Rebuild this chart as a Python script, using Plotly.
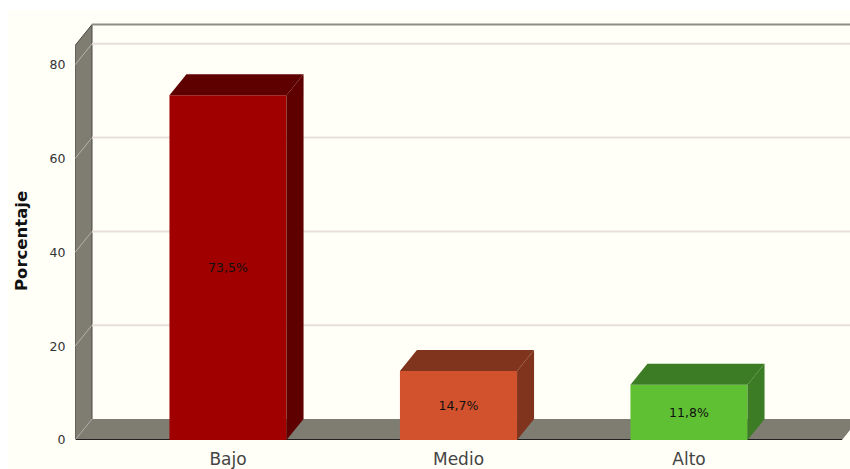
import plotly.graph_objects as go

categories = ["Bajo", "Medio", "Alto"]
values = [73.5, 14.7, 11.8]
value_labels = ["73,5%", "14,7%", "11,8%"]
front_colors = ["#A00000", "#D2522D", "#60C034"]
side_colors = ["#5F0000", "#80341E", "#3C7C24"]
y_ticks = [0, 20, 40, 60, 80]
y_title = "Porcentaje"

W, H = 850, 469
ML, MB = 75, 29
PX_X = 230.5      # pixels per category
PX_Y = 4.69       # pixels per percentage point
X0_PX = 228       # pixel of first category
BAR_W = 0.508
DX = 17 / PX_X    # 3D depth in data units
DY = 21 / PX_Y
plot_h = H - MB
x_rng = [(ML - X0_PX) / PX_X, (W - X0_PX) / PX_X]
y_rng = [0, plot_h / PX_Y]

WALL = "#7F7C72"
IVORY = "#FFFEF7"
GRID = "#E9DFD9"
x_left = x_rng[0]
x_right = (842 - X0_PX) / PX_X
y_top = 84.1


def poly(pts):
    return "M " + " L ".join(f"{x},{y}" for x, y in pts) + " Z"


shapes = [
    dict(type="rect", xref="paper", yref="paper", layer="below", line_width=0, fillcolor=IVORY,
         x0=(8 - ML) / (W - ML), x1=1, y0=-MB / plot_h, y1=(plot_h - 10) / plot_h),
    # left wall
    dict(type="path", xref="x", yref="y", layer="below", fillcolor=WALL, line=dict(color="#4A4A44", width=1),
         path=poly([(x_left, 0), (x_left + DX, DY), (x_left + DX, y_top + DY), (x_left, y_top)])),
    # floor
    dict(type="path", xref="x", yref="y", layer="below", fillcolor=WALL, line_width=0,
         path=poly([(x_left, 0), (x_left + DX, DY), (x_right + DX, DY), (x_right, 0)])),
    # back top edge
    dict(type="line", xref="x", yref="y", layer="below", line=dict(color="#8E8C84", width=2),
         x0=x_left + DX, x1=x_rng[1], y0=y_top + DY, y1=y_top + DY),
    # front baseline
    dict(type="line", xref="x", yref="y", layer="below", line=dict(color="#222222", width=2),
         x0=x_left, x1=x_right, y0=0, y1=0),
]
for t in y_ticks:
    if t > 0:
        shapes.append(dict(type="line", xref="x", yref="y", layer="below", line=dict(color=GRID, width=2),
                           x0=x_left + DX, x1=x_rng[1], y0=t + DY, y1=t + DY))
    shapes.append(dict(type="line", xref="x", yref="y", layer="below", line=dict(color="#B5B3AB", width=1),
                       x0=x_left, x1=x_left + DX, y0=t, y1=t + DY))

fig = go.Figure()
xs = list(range(len(categories)))
fig.add_trace(go.Bar(x=xs, y=values, width=BAR_W, marker=dict(color=front_colors, line_width=0),
                     text=value_labels, textposition="inside", insidetextanchor="middle",
                     textangle=0, constraintext="none",
                     textfont=dict(family="DejaVu Sans", size=12.5, color="#111111"),
                     hoverinfo="skip", showlegend=False))

for i, v in enumerate(values):
    l, r = i - BAR_W / 2, i + BAR_W / 2
    fig.add_trace(go.Scatter(x=[r, r + DX, r + DX, r, r], y=[0, DY, v + DY, v, 0],
                             mode="lines", fill="toself", fillcolor=side_colors[i], line_width=0,
                             hoverinfo="skip", showlegend=False))
    fig.add_trace(go.Scatter(x=[l, l + DX, r + DX, r, l], y=[v, v + DY, v + DY, v, v],
                             mode="lines", fill="toself", fillcolor=side_colors[i], line_width=0,
                             hoverinfo="skip", showlegend=False))

fig.update_layout(
    width=W, height=H, margin=dict(l=ML, r=0, t=0, b=MB, pad=0),
    paper_bgcolor="white", plot_bgcolor="rgba(0,0,0,0)", shapes=shapes, showlegend=False,
    xaxis=dict(range=x_rng, tickmode="array", tickvals=xs, ticktext=categories, showgrid=False, zeroline=False,
               showline=False, ticks="outside", ticklen=4, tickcolor="rgba(0,0,0,0)",
               tickfont=dict(family="DejaVu Sans", size=17, color="#444444"), automargin=False),
    yaxis=dict(range=y_rng, tickmode="array", tickvals=y_ticks, showgrid=False, zeroline=False,
               showline=False, ticks="outside", ticklen=6, tickcolor="rgba(0,0,0,0)",
               tickfont=dict(family="DejaVu Sans", size=12.5, color="#333333"), automargin=False),
    annotations=[dict(text=f"<b>{y_title}</b>", textangle=-90, showarrow=False,
                      xref="paper", yref="paper", x=(21 - ML) / (W - ML), y=(plot_h - 241) / plot_h,
                      xanchor="center", yanchor="middle",
                      font=dict(family="DejaVu Sans", size=16.5, color="#111111"))],
)
fig.write_html("out.html", config=dict(displayModeBar=False),
               post_script="document.body.style.margin='0';document.body.style.overflow='hidden';")
